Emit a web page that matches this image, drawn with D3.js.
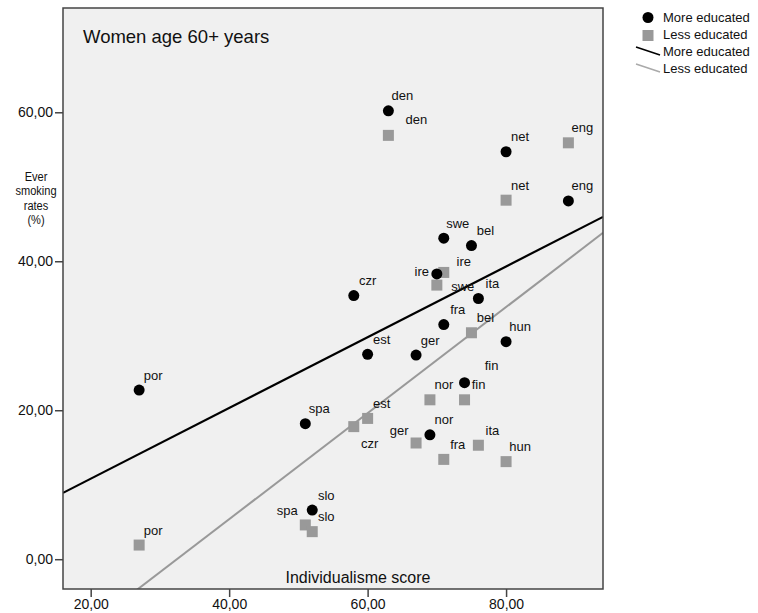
<!DOCTYPE html>
<html>
<head>
<meta charset="utf-8">
<script src="https://cdn.jsdelivr.net/npm/d3@7"></script>
<style>
  body { margin: 0; background: #fff; }
  text { font-family: "Liberation Sans", Arial, sans-serif; fill: #111; }
</style>
</head>
<body>
<div id="scatter"></div>
<script>

const countries = ["den", "net", "eng", "swe", "bel", "ire", "czr", "ita", "fra", "hun", "est", "ger", "fin", "nor", "spa", "slo", "por"];
const individualism = [63, 80, 89, 71, 75, 70, 58, 76, 71, 80, 60, 67, 74, 69, 51, 52, 27];
const moreEducated = [60.2, 54.7, 48.1, 43.1, 42.1, 38.3, 35.4, 35.0, 31.5, 29.2, 27.5, 27.4, 23.7, 16.7, 18.2, 6.6, 22.7];
const lessEducated = [56.9, 48.2, 55.9, 38.5, 30.4, 36.8, 17.8, 15.3, 13.4, 13.1, 18.9, 15.6, 21.4, 21.4, 4.6, 3.7, 1.9];
const xTicks = [20, 40, 60, 80];
const yTicks = [0, 20, 40, 60];

const drawScatter = () => {

  /*******************************/
  /*    Declare the constants    */
  /*******************************/
  const width = 758;
  const height = 613;
  const plot = {left: 63, right: 603, top: 8, bottom: 589};

  // label offsets (label centre minus marker centre), default is up-right
  const defaultOffset = [14, -15];
  const moreOffsets = {ire: [-15, -2], fin: [27, -17]};
  const lessOffsets = {den: [28, -16], ire: [27, -24], swe: [19, 14], czr: [16, 17], ger: [-17, -13], spa: [-18, -14]};

  const svg = d3.select("#scatter")
    .append("svg")
      .attr("width", width)
      .attr("height", height);

  const xScale = d3.scaleLinear()
                  .domain([16, 94])
                  .range([plot.left, plot.right]);

  const yScale = d3.scaleLinear()
                  .domain([-4, 74])
                  .range([plot.bottom, plot.top]);

  // plot background
  svg.append("rect")
    .attr("x", plot.left)
    .attr("y", plot.top)
    .attr("width", plot.right - plot.left)
    .attr("height", plot.bottom - plot.top)
    .attr("fill", "#f0f0f0");

  svg.append("clipPath")
      .attr("id", "clip")
    .append("rect")
      .attr("x", plot.left)
      .attr("y", plot.top)
      .attr("width", plot.right - plot.left)
      .attr("height", plot.bottom - plot.top);

  // least squares fit lines
  const fit = (xs, ys) => {
    const mx = d3.mean(xs), my = d3.mean(ys);
    const slope = d3.sum(xs, (x, i) => (x - mx) * (ys[i] - my)) / d3.sum(xs, x => (x - mx) ** 2);
    return x => my + slope * (x - mx);
  };

  const lines = [
    {f: fit(individualism, moreEducated), colour: "#000", w: 2.2},
    {f: fit(individualism, lessEducated), colour: "#999", w: 2}
  ];

  svg.append("g")
      .attr("clip-path", "url(#clip)")
    .selectAll("line")
    .data(lines)
    .join("line")
      .attr("x1", xScale(16))
      .attr("x2", xScale(94))
      .attr("y1", d => yScale(d.f(16)))
      .attr("y2", d => yScale(d.f(94)))
      .attr("stroke", d => d.colour)
      .attr("stroke-width", d => d.w);

  // markers
  const moreData = countries.map((c, i) => ({c, x: individualism[i], y: moreEducated[i]}));
  const lessData = countries.map((c, i) => ({c, x: individualism[i], y: lessEducated[i]}));

  svg.append("g")
    .selectAll("rect")
    .data(lessData)
    .join("rect")
      .attr("x", d => xScale(d.x) - 5.5)
      .attr("y", d => yScale(d.y) - 5.5)
      .attr("width", 11)
      .attr("height", 11)
      .attr("fill", "#999");

  svg.append("g")
    .selectAll("circle")
    .data(moreData)
    .join("circle")
      .attr("cx", d => xScale(d.x))
      .attr("cy", d => yScale(d.y))
      .attr("r", 5.5)
      .attr("fill", "#000");

  const addLabels = (data, offsets) => {
    svg.append("g")
      .selectAll("text")
      .data(data)
      .join("text")
        .text(d => d.c)
        .attr("x", d => xScale(d.x) + (offsets[d.c] || defaultOffset)[0])
        .attr("y", d => yScale(d.y) + (offsets[d.c] || defaultOffset)[1] + 4.5)
        .attr("text-anchor", "middle")
        .attr("font-size", 13);
  };
  addLabels(moreData, moreOffsets);
  addLabels(lessData, lessOffsets);

  // frame
  svg.append("rect")
    .attr("x", plot.left)
    .attr("y", plot.top)
    .attr("width", plot.right - plot.left)
    .attr("height", plot.bottom - plot.top)
    .attr("fill", "none")
    .attr("stroke", "#444")
    .attr("stroke-width", 1.5);

  // axes
  const xAxis = d3.axisBottom(xScale)
    .tickValues(xTicks)
    .tickFormat(d => d3.format(".2f")(d).replace(".", ","))
    .tickSize(8)
    .tickPadding(2);

  const yAxis = d3.axisLeft(yScale)
    .tickValues(yTicks)
    .tickFormat(d => d3.format(".2f")(d).replace(".", ","))
    .tickSize(8)
    .tickPadding(2);

  const gx = svg.append("g")
      .attr("transform", `translate(0, ${plot.bottom})`)
    .call(xAxis);

  const gy = svg.append("g")
      .attr("transform", `translate(${plot.left}, 0)`)
    .call(yAxis);

  [gx, gy].forEach(g => {
    g.select(".domain").remove();
    g.selectAll(".tick line").attr("stroke", "#444").attr("stroke-width", 1.5);
    g.selectAll(".tick text")
      .attr("font-family", "'Liberation Sans', Arial, sans-serif")
      .attr("font-size", 14)
      .attr("fill", "#222");
  });

  // titles
  svg.append("text")
    .text("Women age 60+ years")
    .attr("x", 83)
    .attr("y", 43)
    .attr("font-size", 18.5)
    .attr("fill", "#222");

  svg.append("text")
    .text("Individualisme score")
    .attr("x", 358)
    .attr("y", 583)
    .attr("text-anchor", "middle")
    .attr("font-size", 16)
    .attr("fill", "#222");

  // y title, a bit condensed like the original
  svg.append("g")
      .attr("transform", "translate(36, 0) scale(0.82, 1)")
    .append("text")
      .attr("text-anchor", "middle")
      .attr("font-size", 13.5)
    .selectAll("tspan")
    .data(["Ever", "smoking", "rates", "(%)"])
    .join("tspan")
      .attr("x", 0)
      .attr("y", (d, i) => 181 + i * 14.5)
      .text(d => d);

  // legend
  const legend = svg.append("g")
    .attr("transform", "translate(648, 0)");

  legend.append("circle")
    .attr("cx", 0).attr("cy", 17.5).attr("r", 5.5).attr("fill", "#000");
  legend.append("rect")
    .attr("x", -5.5).attr("y", 30).attr("width", 11).attr("height", 11).attr("fill", "#999");
  legend.append("line")
    .attr("x1", -12).attr("y1", 47).attr("x2", 12).attr("y2", 55)
    .attr("stroke", "#000").attr("stroke-width", 1.5);
  legend.append("line")
    .attr("x1", -12).attr("y1", 64).attr("x2", 12).attr("y2", 72)
    .attr("stroke", "#aaa").attr("stroke-width", 1.5);

  legend.selectAll("text.leg")
    .data(["More educated", "Less educated", "More educated", "Less educated"])
    .join("text")
      .attr("class", "leg")
      .text(d => d)
      .attr("x", 15)
      .attr("y", (d, i) => 22 + i * 17)
      .attr("font-size", 13);
};

drawScatter();
</script>
</body>
</html>
